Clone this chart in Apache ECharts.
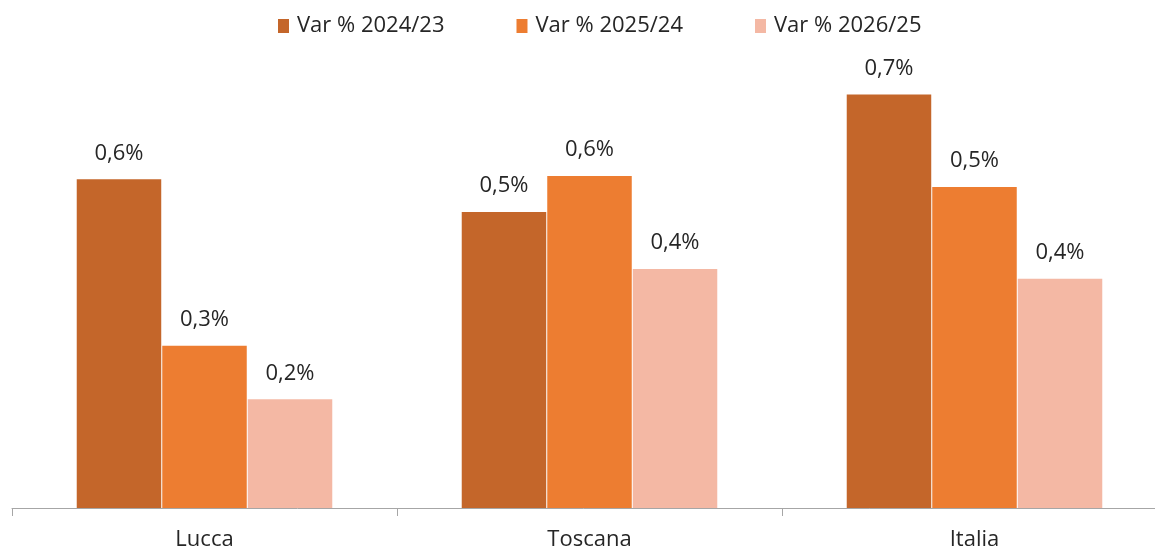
<!DOCTYPE html>
<html>
<head>
<meta charset="utf-8">
<script src="https://cdn.jsdelivr.net/npm/echarts@6/dist/echarts.min.js"></script>
<style>html,body{margin:0;padding:0;background:#fff}#c{width:1155px;height:549px}</style>
</head>
<body>
<div id="c"></div>
<script>
const categories = ['Lucca', 'Toscana', 'Italia'];
const seriesNames = ['Var % 2024/23', 'Var % 2025/24', 'Var % 2026/25'];
const var2024 = [0.555, 0.500, 0.698];
const var2025 = [0.274, 0.5605, 0.542];
const var2026 = [0.1835, 0.4035, 0.387];
const colors = ['#C4662A', '#ED7D31', '#F4B8A4'];

const font = '"Open Sans", sans-serif';
const textColor = '#262626';
const fmt = p => p.value.toFixed(1).replace('.', ',') + '%';

const mk = (name, data, color) => ({
  name, type: 'bar', data,
  barWidth: 84.5, barGap: '1.2%',
  itemStyle: { color },
  label: { show: true, position: 'top', distance: 15, formatter: fmt,
           fontFamily: font, fontSize: 22, color: textColor }
});

const chart = echarts.init(document.getElementById('c'), null, { renderer: 'canvas' });
chart.setOption({
  animation: false,
  backgroundColor: '#fff',
  legend: {
    top: 10, left: 273, itemWidth: 11, itemHeight: 14, itemGap: 72,
    icon: 'rect',
    textStyle: { fontFamily: font, fontSize: 22, color: textColor, padding: [0,0,0,3] },
    data: seriesNames
  },
  grid: { left: 12, right: -12, top: 34.2, bottom: 41, containLabel: false, outerBoundsMode: 'none' },
  xAxis: {
    type: 'category', data: categories, boundaryGap: true,
    axisLine: { lineStyle: { color: '#A6A6A6', width: 1 } },
    axisTick: { show: true, length: 8, lineStyle: { color: '#A6A6A6' } },
    axisLabel: { fontFamily: font, fontSize: 22, color: textColor, margin: 21 }
  },
  yAxis: { type: 'value', min: 0, max: 0.8, show: false, splitLine: { show: false } },
  series: [
    mk(seriesNames[0], var2024, colors[0]),
    mk(seriesNames[1], var2025, colors[1]),
    mk(seriesNames[2], var2026, colors[2])
  ]
});
</script>
</body>
</html>
